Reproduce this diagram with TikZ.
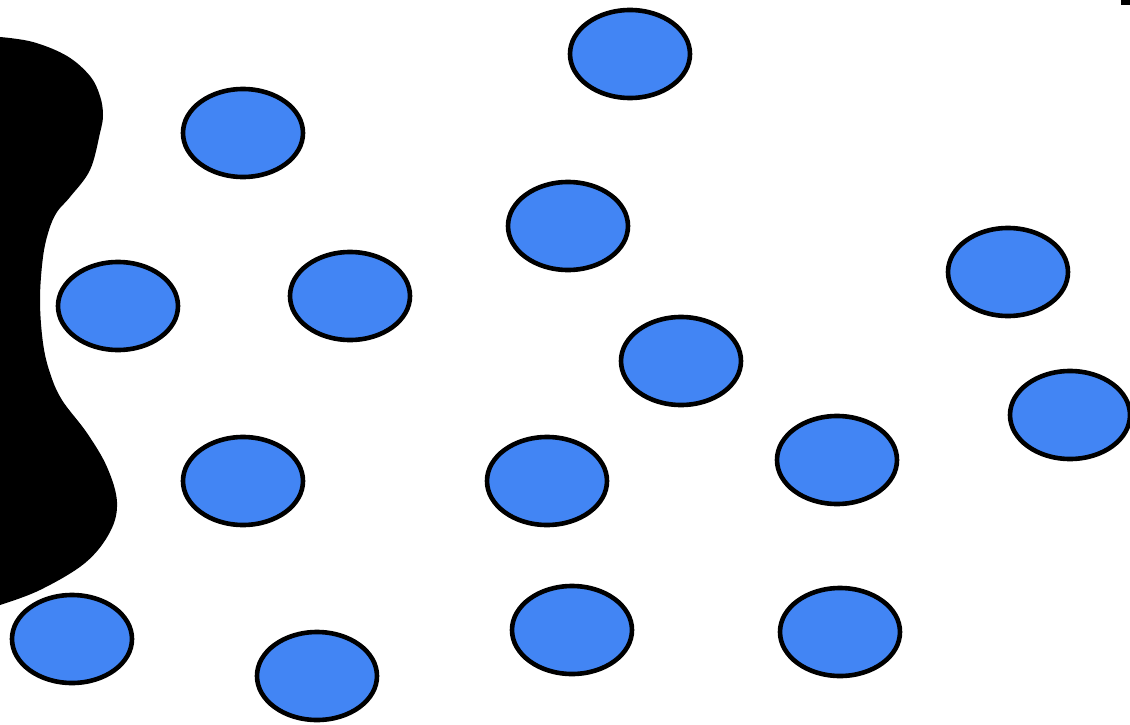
\documentclass[tikz,border=0pt]{standalone}
\usetikzlibrary{shapes.geometric}
\definecolor{gblue}{HTML}{4285F4}
\tikzset{
  cell/.style={ellipse, draw=black, fill=gblue, line width=4.6pt, minimum width=120pt, minimum height=88pt, inner sep=0pt},
}
\begin{document}
\begin{tikzpicture}[x=1pt,y=-1pt]
\useasboundingbox (0,0) rectangle (1130,725);
\clip (0,0) rectangle (1130,725);
\fill[black] (-10,37) -- plot[smooth, tension=0.6] coordinates {(0,37) (33,42) (67,56) (90,76) (100,96) (103,115) (100,133) (90,170) (70,197) (57,212) (49,230) (43,257) (40,300) (43,343) (50,373) (62,400) (87,433) (107,467) (117,502) (110,532) (85,563) (40,590) (0,605)} -- (-10,605) -- cycle;
\fill[black] (1121,0) rectangle (1131,5);
\node[cell] (e1) at (630,54) {};
\node[cell] (e2) at (243,133) {};
\node[cell] (e3) at (568,226) {};
\node[cell] (e4) at (1008,272) {};
\node[cell] (e5) at (118,306) {};
\node[cell] (e6) at (350,296) {};
\node[cell] (e7) at (681,361) {};
\node[cell] (e8) at (1070,415) {};
\node[cell] (e9) at (243,481) {};
\node[cell] (e10) at (547,481) {};
\node[cell] (e11) at (837,460) {};
\node[cell] (e12) at (72,639) {};
\node[cell] (e13) at (317,676) {};
\node[cell] (e14) at (572,630) {};
\node[cell] (e15) at (840,632) {};
\end{tikzpicture}
\end{document}
